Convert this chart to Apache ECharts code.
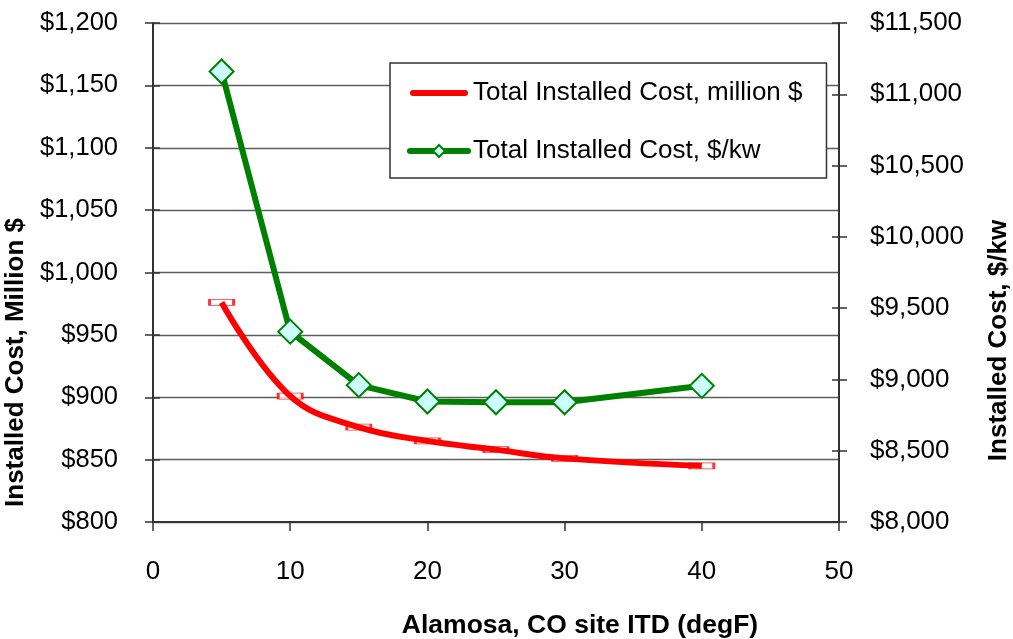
<!DOCTYPE html>
<html>
<head>
<meta charset="utf-8">
<script src="https://cdn.jsdelivr.net/npm/echarts@6/dist/echarts.min.js"></script>
<style>html,body{margin:0;padding:0;background:#fff;overflow:hidden}#c{width:1013px;height:639px}</style>
</head>
<body>
<div id="c"></div>
<script>
const itdValues = [5, 10, 15, 20, 25, 30, 40];
const costMillion = [976, 901, 876, 865, 858, 851, 845];
const costPerKw = [11160, 9335, 8960, 8845, 8840, 8840, 8955];
const seriesNames = ['Total Installed Cost, million $', 'Total Installed Cost, $/kw'];
const xAxisName = 'Alamosa, CO site ITD (degF)';
const leftAxisName = 'Installed Cost, Million $';
const rightAxisName = 'Installed Cost, $/kw';

const pairs = (xs, ys) => xs.map((x, i) => [x, ys[i]]);
const money = v => '$' + v.toLocaleString('en-US');
const FONT = 'Liberation Sans, Arial, sans-serif';
const axisColor = '#333';

const chart = echarts.init(document.getElementById('c'), null, {renderer: 'canvas', width: 1013, height: 639});
const tickInside = {show: true, inside: true, length: 7, lineStyle: {color: axisColor, width: 1.5}};
const tickOutside = {show: true, inside: false, length: 8, lineStyle: {color: axisColor, width: 1.5}};

chart.setOption({
  animation: false,
  backgroundColor: '#fff',
  textStyle: {fontFamily: FONT, color: '#000'},
  grid: {left: 153, top: 23, width: 686, height: 499, containLabel: false, outerBoundsMode: 'none'},
  legend: {
    data: [
      {name: seriesNames[0], icon: 'path://M3,0H55A3,3,0,0,1,55,6H3A3,3,0,0,1,3,0Z'},
      {name: seriesNames[1]}
    ],
    orient: 'vertical',
    left: 390, top: 63,
    padding: [17, 24, 14, 17],
    itemGap: 32,
    itemWidth: 58, itemHeight: 15,
    itemTextGap: 5,
    borderColor: '#333', borderWidth: 1.5,
    backgroundColor: '#fff',
    lineStyle: {width: 6, cap: 'round'},
    textStyle: {fontSize: 26, lineHeight: 26, color: '#000', fontFamily: FONT}
  },
  xAxis: {
    type: 'value', min: 0, max: 50, interval: 10,
    name: xAxisName, nameLocation: 'middle', nameGap: 90,
    nameTextStyle: {fontSize: 26.5, fontWeight: 'bold', color: '#000', padding: [0, 0, 0, 168]},
    axisLine: {lineStyle: {color: axisColor, width: 2}},
    axisTick: {length: 9, lineStyle: {color: axisColor, width: 1.5}},
    axisLabel: {fontSize: 26, color: '#000', margin: 37},
    splitLine: {show: false}
  },
  yAxis: [
    {
      type: 'value', position: 'left', min: 800, max: 1200, interval: 50,
      name: leftAxisName, nameLocation: 'middle', nameGap: 108, nameRotate: 90,
      nameTextStyle: {fontSize: 26, fontWeight: 'bold', color: '#000', padding: [0, 180, 0, 0]},
      axisLine: {show: true, lineStyle: {color: axisColor, width: 2}},
      axisTick: tickOutside,
      axisLabel: {fontSize: 25.5, color: '#000', margin: 35, formatter: money},
      splitLine: {show: true, lineStyle: {color: '#5e5e5e', width: 1.3}}
    },
    {
      type: 'value', position: 'right', min: 8000, max: 11500, interval: 500,
      name: rightAxisName, nameLocation: 'middle', nameGap: 147, nameRotate: 90,
      nameTextStyle: {fontSize: 26, fontWeight: 'bold', color: '#000', padding: [0, 136, 0, 0]},
      axisLine: {show: true, lineStyle: {color: axisColor, width: 2}},
      axisTick: tickOutside,
      axisLabel: {fontSize: 26, color: '#000', margin: 31, formatter: money},
      splitLine: {show: false}
    },
    {
      type: 'value', position: 'left', min: 800, max: 1200, interval: 50,
      axisLine: {show: false}, axisTick: tickInside, axisLabel: {show: false}, splitLine: {show: false}
    },
    {
      type: 'value', position: 'right', min: 8000, max: 11500, interval: 500,
      axisLine: {show: false}, axisTick: tickInside, axisLabel: {show: false}, splitLine: {show: false}
    }
  ],
  series: [
    {
      name: seriesNames[0], type: 'line', yAxisIndex: 0,
      data: pairs(itdValues, costMillion),
      smooth: 0.4, symbol: 'none',
      lineStyle: {color: '#ff0000', width: 6},
      itemStyle: {color: '#ff0000'},
      z: 4
    },
    {
      name: 'markers', type: 'scatter', yAxisIndex: 0,
      data: pairs(itdValues, costMillion),
      symbol: 'rect', symbolSize: [24, 6],
      itemStyle: {color: '#fff', borderColor: '#ff0000', borderWidth: 1.5},
      z: 3
    },
    {
      name: seriesNames[1], type: 'line', yAxisIndex: 1,
      data: pairs(itdValues, costPerKw),
      symbol: 'diamond', symbolSize: 24, showAllSymbol: true,
      lineStyle: {color: '#008000', width: 6},
      itemStyle: {color: '#ccffff', borderColor: '#008000', borderWidth: 2},
      z: 5
    }
  ]
});
</script>
</body>
</html>
